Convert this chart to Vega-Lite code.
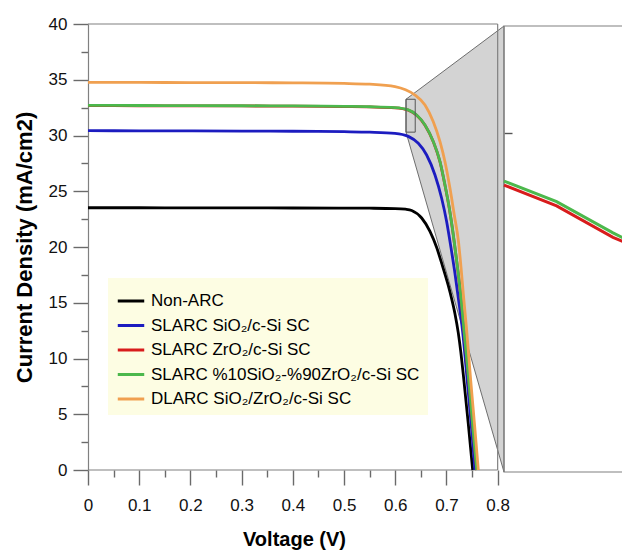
{
  "$schema": "https://vega.github.io/schema/vega-lite/v6.json",
  "width": 534,
  "height": 446,
  "autosize": "none",
  "padding": {"left": 88, "top": 24, "right": 0, "bottom": 81},
  "background": "white",
  "config": {
    "view": {"stroke": null},
    "font": "Liberation Sans",
    "axis": {"domainColor": "#808080", "tickColor": "#6a6a6a", "labelFont": "Liberation Sans", "labelFontSize": 17, "labelColor": "#111111", "titleFont": "Liberation Sans", "titleFontWeight": "bold", "titleColor": "#000000", "grid": false, "tickWidth": 1.4, "domainWidth": 1.2}
  },
  "datasets": {
    "curves": [
      {"s": "Non-ARC", "v": 0, "j": 23.52}, {"s": "Non-ARC", "v": 0.1, "j": 23.52}, {"s": "Non-ARC", "v": 0.2, "j": 23.51}, {"s": "Non-ARC", "v": 0.3, "j": 23.51}, {"s": "Non-ARC", "v": 0.4, "j": 23.5}, {"s": "Non-ARC", "v": 0.5, "j": 23.49}, {"s": "Non-ARC", "v": 0.55, "j": 23.48}, {"s": "Non-ARC", "v": 0.5995, "j": 23.45}, {"s": "Non-ARC", "v": 0.62, "j": 23.39}, {"s": "Non-ARC", "v": 0.6321, "j": 23.28}, {"s": "Non-ARC", "v": 0.6516, "j": 22.6}, {"s": "Non-ARC", "v": 0.6678, "j": 21.4}, {"s": "Non-ARC", "v": 0.6809, "j": 19.95}, {"s": "Non-ARC", "v": 0.6906, "j": 18.55}, {"s": "Non-ARC", "v": 0.7035, "j": 16.55}, {"s": "Non-ARC", "v": 0.7102, "j": 15.35}, {"s": "Non-ARC", "v": 0.7167, "j": 14.0}, {"s": "Non-ARC", "v": 0.7231, "j": 12.3}, {"s": "Non-ARC", "v": 0.728, "j": 10.6}, {"s": "Non-ARC", "v": 0.733, "j": 8.5}, {"s": "Non-ARC", "v": 0.7426, "j": 4.15}, {"s": "Non-ARC", "v": 0.7512, "j": 0},
      {"s": "SLARC SiO₂/c-Si SC", "v": 0, "j": 30.43}, {"s": "SLARC SiO₂/c-Si SC", "v": 0.1, "j": 30.42}, {"s": "SLARC SiO₂/c-Si SC", "v": 0.2, "j": 30.41}, {"s": "SLARC SiO₂/c-Si SC", "v": 0.3, "j": 30.4}, {"s": "SLARC SiO₂/c-Si SC", "v": 0.4, "j": 30.38}, {"s": "SLARC SiO₂/c-Si SC", "v": 0.5, "j": 30.34}, {"s": "SLARC SiO₂/c-Si SC", "v": 0.55, "j": 30.3}, {"s": "SLARC SiO₂/c-Si SC", "v": 0.5995, "j": 30.2}, {"s": "SLARC SiO₂/c-Si SC", "v": 0.6255, "j": 29.92}, {"s": "SLARC SiO₂/c-Si SC", "v": 0.645, "j": 29.3}, {"s": "SLARC SiO₂/c-Si SC", "v": 0.6613, "j": 28.25}, {"s": "SLARC SiO₂/c-Si SC", "v": 0.6776, "j": 26.46}, {"s": "SLARC SiO₂/c-Si SC", "v": 0.6906, "j": 24.37}, {"s": "SLARC SiO₂/c-Si SC", "v": 0.7004, "j": 22.27}, {"s": "SLARC SiO₂/c-Si SC", "v": 0.7088, "j": 19.95}, {"s": "SLARC SiO₂/c-Si SC", "v": 0.7167, "j": 17.6}, {"s": "SLARC SiO₂/c-Si SC", "v": 0.7231, "j": 15.45}, {"s": "SLARC SiO₂/c-Si SC", "v": 0.7316, "j": 12.4}, {"s": "SLARC SiO₂/c-Si SC", "v": 0.7407, "j": 7.95}, {"s": "SLARC SiO₂/c-Si SC", "v": 0.7492, "j": 3.6}, {"s": "SLARC SiO₂/c-Si SC", "v": 0.7557, "j": 0},
      {"s": "SLARC ZrO₂/c-Si SC", "v": 0, "j": 32.68}, {"s": "SLARC ZrO₂/c-Si SC", "v": 0.1, "j": 32.67}, {"s": "SLARC ZrO₂/c-Si SC", "v": 0.2, "j": 32.66}, {"s": "SLARC ZrO₂/c-Si SC", "v": 0.3, "j": 32.65}, {"s": "SLARC ZrO₂/c-Si SC", "v": 0.4, "j": 32.63}, {"s": "SLARC ZrO₂/c-Si SC", "v": 0.5, "j": 32.59}, {"s": "SLARC ZrO₂/c-Si SC", "v": 0.55, "j": 32.56}, {"s": "SLARC ZrO₂/c-Si SC", "v": 0.5995, "j": 32.48}, {"s": "SLARC ZrO₂/c-Si SC", "v": 0.6255, "j": 32.28}, {"s": "SLARC ZrO₂/c-Si SC", "v": 0.6418, "j": 31.82}, {"s": "SLARC ZrO₂/c-Si SC", "v": 0.6581, "j": 30.92}, {"s": "SLARC ZrO₂/c-Si SC", "v": 0.6743, "j": 29.43}, {"s": "SLARC ZrO₂/c-Si SC", "v": 0.6874, "j": 27.63}, {"s": "SLARC ZrO₂/c-Si SC", "v": 0.6971, "j": 25.54}, {"s": "SLARC ZrO₂/c-Si SC", "v": 0.7056, "j": 23.45}, {"s": "SLARC ZrO₂/c-Si SC", "v": 0.7134, "j": 21.06}, {"s": "SLARC ZrO₂/c-Si SC", "v": 0.72, "j": 18.73}, {"s": "SLARC ZrO₂/c-Si SC", "v": 0.7278, "j": 15.68}, {"s": "SLARC ZrO₂/c-Si SC", "v": 0.7345, "j": 12.38}, {"s": "SLARC ZrO₂/c-Si SC", "v": 0.7435, "j": 8.05}, {"s": "SLARC ZrO₂/c-Si SC", "v": 0.752, "j": 3.57}, {"s": "SLARC ZrO₂/c-Si SC", "v": 0.7591, "j": 0},
      {"s": "SLARC %10SiO₂-%90ZrO₂/c-Si SC", "v": 0, "j": 32.7}, {"s": "SLARC %10SiO₂-%90ZrO₂/c-Si SC", "v": 0.1, "j": 32.69}, {"s": "SLARC %10SiO₂-%90ZrO₂/c-Si SC", "v": 0.2, "j": 32.68}, {"s": "SLARC %10SiO₂-%90ZrO₂/c-Si SC", "v": 0.3, "j": 32.67}, {"s": "SLARC %10SiO₂-%90ZrO₂/c-Si SC", "v": 0.4, "j": 32.65}, {"s": "SLARC %10SiO₂-%90ZrO₂/c-Si SC", "v": 0.5, "j": 32.61}, {"s": "SLARC %10SiO₂-%90ZrO₂/c-Si SC", "v": 0.55, "j": 32.58}, {"s": "SLARC %10SiO₂-%90ZrO₂/c-Si SC", "v": 0.5995, "j": 32.5}, {"s": "SLARC %10SiO₂-%90ZrO₂/c-Si SC", "v": 0.6255, "j": 32.3}, {"s": "SLARC %10SiO₂-%90ZrO₂/c-Si SC", "v": 0.6418, "j": 31.84}, {"s": "SLARC %10SiO₂-%90ZrO₂/c-Si SC", "v": 0.6581, "j": 30.94}, {"s": "SLARC %10SiO₂-%90ZrO₂/c-Si SC", "v": 0.6743, "j": 29.45}, {"s": "SLARC %10SiO₂-%90ZrO₂/c-Si SC", "v": 0.6874, "j": 27.65}, {"s": "SLARC %10SiO₂-%90ZrO₂/c-Si SC", "v": 0.6971, "j": 25.56}, {"s": "SLARC %10SiO₂-%90ZrO₂/c-Si SC", "v": 0.7056, "j": 23.47}, {"s": "SLARC %10SiO₂-%90ZrO₂/c-Si SC", "v": 0.7134, "j": 21.08}, {"s": "SLARC %10SiO₂-%90ZrO₂/c-Si SC", "v": 0.72, "j": 18.75}, {"s": "SLARC %10SiO₂-%90ZrO₂/c-Si SC", "v": 0.7278, "j": 15.7}, {"s": "SLARC %10SiO₂-%90ZrO₂/c-Si SC", "v": 0.7345, "j": 12.4}, {"s": "SLARC %10SiO₂-%90ZrO₂/c-Si SC", "v": 0.7435, "j": 8.07}, {"s": "SLARC %10SiO₂-%90ZrO₂/c-Si SC", "v": 0.752, "j": 3.59}, {"s": "SLARC %10SiO₂-%90ZrO₂/c-Si SC", "v": 0.7592, "j": 0},
      {"s": "DLARC SiO₂/ZrO₂/c-Si SC", "v": 0, "j": 34.77}, {"s": "DLARC SiO₂/ZrO₂/c-Si SC", "v": 0.1, "j": 34.76}, {"s": "DLARC SiO₂/ZrO₂/c-Si SC", "v": 0.2, "j": 34.75}, {"s": "DLARC SiO₂/ZrO₂/c-Si SC", "v": 0.3, "j": 34.74}, {"s": "DLARC SiO₂/ZrO₂/c-Si SC", "v": 0.4, "j": 34.72}, {"s": "DLARC SiO₂/ZrO₂/c-Si SC", "v": 0.5, "j": 34.67}, {"s": "DLARC SiO₂/ZrO₂/c-Si SC", "v": 0.55, "j": 34.6}, {"s": "DLARC SiO₂/ZrO₂/c-Si SC", "v": 0.5995, "j": 34.38}, {"s": "DLARC SiO₂/ZrO₂/c-Si SC", "v": 0.62, "j": 34.1}, {"s": "DLARC SiO₂/ZrO₂/c-Si SC", "v": 0.6386, "j": 33.63}, {"s": "DLARC SiO₂/ZrO₂/c-Si SC", "v": 0.6581, "j": 32.74}, {"s": "DLARC SiO₂/ZrO₂/c-Si SC", "v": 0.6743, "j": 31.24}, {"s": "DLARC SiO₂/ZrO₂/c-Si SC", "v": 0.6874, "j": 29.45}, {"s": "DLARC SiO₂/ZrO₂/c-Si SC", "v": 0.6971, "j": 27.65}, {"s": "DLARC SiO₂/ZrO₂/c-Si SC", "v": 0.7069, "j": 25.26}, {"s": "DLARC SiO₂/ZrO₂/c-Si SC", "v": 0.7153, "j": 22.87}, {"s": "DLARC SiO₂/ZrO₂/c-Si SC", "v": 0.7232, "j": 20.6}, {"s": "DLARC SiO₂/ZrO₂/c-Si SC", "v": 0.7284, "j": 18.2}, {"s": "DLARC SiO₂/ZrO₂/c-Si SC", "v": 0.7329, "j": 15.8}, {"s": "DLARC SiO₂/ZrO₂/c-Si SC", "v": 0.7394, "j": 12.56}, {"s": "DLARC SiO₂/ZrO₂/c-Si SC", "v": 0.7473, "j": 8.07}, {"s": "DLARC SiO₂/ZrO₂/c-Si SC", "v": 0.7557, "j": 3.59}, {"s": "DLARC SiO₂/ZrO₂/c-Si SC", "v": 0.7622, "j": 0}
    ],
    "inset": [
      {"s": "SLARC ZrO₂/c-Si SC", "v": 0.621, "j": 32.164}, {"s": "SLARC ZrO₂/c-Si SC", "v": 0.62331, "j": 32.028}, {"s": "SLARC ZrO₂/c-Si SC", "v": 0.625785, "j": 31.824}, {"s": "SLARC ZrO₂/c-Si SC", "v": 0.6265, "j": 31.78},
      {"s": "SLARC %10SiO₂-%90ZrO₂/c-Si SC", "v": 0.621, "j": 32.19}, {"s": "SLARC %10SiO₂-%90ZrO₂/c-Si SC", "v": 0.62331, "j": 32.056}, {"s": "SLARC %10SiO₂-%90ZrO₂/c-Si SC", "v": 0.625785, "j": 31.853}, {"s": "SLARC %10SiO₂-%90ZrO₂/c-Si SC", "v": 0.6265, "j": 31.8}
    ],
    "poly": [{"v": 0.621, "j": 33.25, "j2": 30.3}, {"v": 0.81237, "j": 39.82, "j2": -0.18}],
    "frame": [{"v": 0, "v2": 0.8, "j": 40, "j2": 40}, {"v": 0.8, "v2": 0.8, "j": 0, "j2": 40}, {"v": 0, "v2": 0.8, "j": 0, "j2": 0}],
    "zoombox": [{"v": 0.621, "v2": 0.639, "j": 30.3, "j2": 33.25}],
    "insetframe": [{"v": 0.621, "v2": 0.66, "j": 30.3, "j2": 33.197}]
  },
  "layer": [
    {
      "encoding": {
        "x": {"field": "v", "type": "quantitative", "scale": {"domain": [0, 1.0428], "nice": false, "zero": false},
          "axis": {"values": [0, 0.05, 0.1, 0.15, 0.2, 0.25, 0.3, 0.35, 0.4, 0.45, 0.5, 0.55, 0.6, 0.65, 0.7, 0.75, 0.8], "domain": false,
            "tickSize": {"condition": {"test": "abs(datum.value*10-round(datum.value*10))<0.001", "value": 15}, "value": 7},
            "labelExpr": "abs(datum.value*10-round(datum.value*10))<0.001 ? format(datum.value,'.1~f') : ''",
            "labelPadding": 12, "labelFlush": false, "labelOverlap": false, "labelBound": false,
            "title": "Voltage (V)", "titleFontSize": 20, "titleX": 206, "titleY": 75, "titleBaseline": "alphabetic"}},
        "y": {"field": "j", "type": "quantitative", "scale": {"domain": [0, 40], "nice": false, "zero": false},
          "axis": {"values": [0, 2.5, 5, 7.5, 10, 12.5, 15, 17.5, 20, 22.5, 25, 27.5, 30, 32.5, 35, 37.5, 40], "domain": true,
            "tickSize": {"condition": {"test": "datum.value % 5 === 0", "value": 15}, "value": 7},
            "labelExpr": "datum.value % 5 === 0 ? format(datum.value,'d') : ''",
            "labelPadding": 6, "labelOverlap": false, "labelBound": false,
            "title": "Current Density (mA/cm2)", "titleFontSize": 22, "titleX": -64, "titleY": 223, "titleBaseline": "middle", "titleAngle": -90}}
      },
      "layer": [
        {"data": {"name": "poly"}, "mark": {"type": "area", "orient": "vertical", "interpolate": "linear", "fill": "#d3d3d3", "stroke": "#6e6e6e", "strokeWidth": 1}, "encoding": {"y2": {"field": "j2"}}},
        {"data": {"name": "frame"}, "mark": {"type": "rule", "color": "#808080", "strokeWidth": 1.2}, "encoding": {"x2": {"field": "v2"}, "y2": {"field": "j2"}}},
        {"data": {"name": "curves"}, "mark": {"type": "line", "strokeWidth": 2.8, "interpolate": "monotone"},
          "encoding": {"color": {"field": "s", "type": "nominal",
            "scale": {"domain": ["Non-ARC", "SLARC SiO₂/c-Si SC", "SLARC ZrO₂/c-Si SC", "SLARC %10SiO₂-%90ZrO₂/c-Si SC", "DLARC SiO₂/ZrO₂/c-Si SC"], "range": ["#000000", "#1c1cc0", "#d81c1c", "#4cb84c", "#f0a050"]},
            "legend": {"orient": "none", "legendX": 20, "legendY": 254, "title": null, "fillColor": "#fdfde3", "padding": 8, "symbolType": "stroke", "symbolStrokeWidth": 3, "symbolSize": 700, "labelFontSize": 17, "labelFont": "Liberation Sans", "labelColor": "#000000", "labelOffset": 5, "labelLimit": 0, "rowPadding": 1.5}}}},
        {"data": {"name": "zoombox"}, "mark": {"type": "rect", "fill": null, "stroke": "#555555", "strokeWidth": 1}, "encoding": {"x2": {"field": "v2"}, "y2": {"field": "j2"}}}
      ]
    },
    {
      "encoding": {
        "x": {"field": "v", "type": "quantitative", "scale": {"domain": [0.60274, 0.62618], "nice": false, "zero": false}, "axis": null},
        "y": {"field": "j", "type": "quantitative", "scale": {"domain": [30.313, 33.21], "nice": false, "zero": false},
          "axis": {"orient": "right", "offset": -118, "values": [32.5], "labels": false, "domain": false, "tickSize": 8, "tickColor": "#555555", "title": null}}
      },
      "layer": [
        {"data": {"name": "insetframe"}, "mark": {"type": "rect", "fill": null, "stroke": "#808080", "strokeWidth": 1.2}, "encoding": {"x2": {"field": "v2"}, "y2": {"field": "j2"}}},
        {"data": {"name": "inset"}, "mark": {"type": "line", "strokeWidth": 3, "interpolate": "linear"},
          "encoding": {"color": {"field": "s", "type": "nominal",
            "scale": {"domain": ["Non-ARC", "SLARC SiO₂/c-Si SC", "SLARC ZrO₂/c-Si SC", "SLARC %10SiO₂-%90ZrO₂/c-Si SC", "DLARC SiO₂/ZrO₂/c-Si SC"], "range": ["#000000", "#1c1cc0", "#d81c1c", "#4cb84c", "#f0a050"]},
            "legend": null}}}
      ]
    }
  ],
  "resolve": {"scale": {"x": "independent", "y": "independent"}}
}
